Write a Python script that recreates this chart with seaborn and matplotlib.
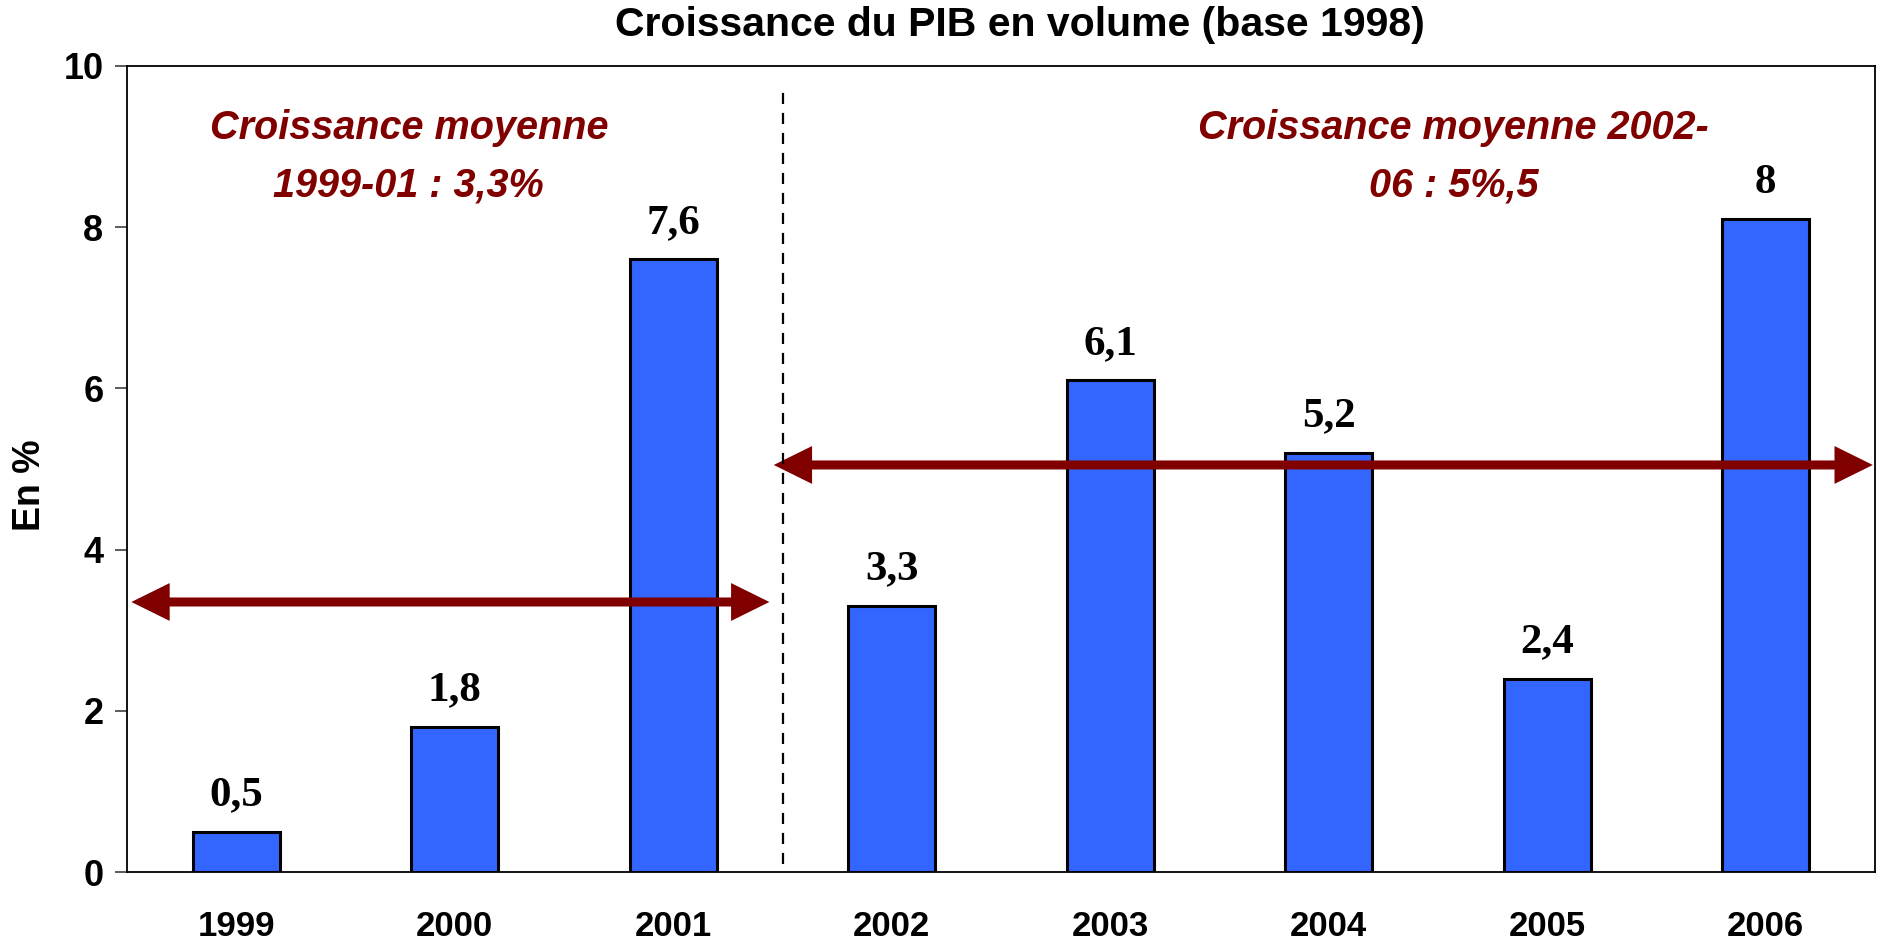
import seaborn as sns
import matplotlib.pyplot as plt
import pandas as pd
from matplotlib.patches import FancyArrowPatch

sns.set_style("white")
plt.rcParams['font.family'] = ['Liberation Sans', 'DejaVu Sans']
plt.rcParams['text.color'] = 'black'
plt.rcParams['axes.labelcolor'] = 'black'

years = ['1999', '2000', '2001', '2002', '2003', '2004', '2005', '2006']
growth = [0.5, 1.8, 7.6, 3.3, 6.1, 5.2, 2.4, 8.1]
value_labels = ['0,5', '1,8', '7,6', '3,3', '6,1', '5,2', '2,4', '8']

avg_1 = 3.35
avg_2 = 5.05
text_1 = 'Croissance moyenne\n1999-01 : 3,3%'
text_2 = 'Croissance moyenne 2002-\n06 : 5%,5'

df = pd.DataFrame({'year': years, 'growth': growth})

fig = plt.figure(figsize=(18.79, 9.44), dpi=100)
ax = fig.add_axes([127 / 1879, 72 / 944, 1748 / 1879, 806 / 944])

sns.barplot(data=df, x='year', y='growth', color='#3366FF', saturation=1,
            edgecolor='black', linewidth=2.2, width=0.4, ax=ax)

for i, lab in enumerate(value_labels):
    ax.annotate(lab, (i, growth[i]), xytext=(0, 19), textcoords='offset points',
                ha='center', va='baseline', fontsize=31, fontweight='bold',
                family='Liberation Serif', color='black')

ax.set_xlim(-0.5, 7.5)
ax.set_ylim(0, 10)
ax.set_yticks([0, 2, 4, 6, 8, 10])

# dashed separator between the two periods
ax.plot([2.5, 2.5], [0.1, 9.7], color='black', lw=1.6, ls=(0, (5, 4)))

red = '#800000'
for (x0, x1, y) in [(-0.48, 2.44, avg_1), (2.46, 7.49, avg_2)]:
    arr = FancyArrowPatch((x0, y), (x1, y), arrowstyle='<|-|>,head_length=0.85,head_width=0.42',
                          mutation_scale=20, color=red, lw=6.5, shrinkA=0, shrinkB=0,
                          joinstyle='miter', capstyle='butt')
    ax.add_patch(arr)

ax.text(0.79, 8.88, text_1, ha='center', va='center', color=red, fontsize=28.5,
        fontweight='bold', fontstyle='italic', linespacing=1.65)
ax.text(5.57, 8.88, text_2, ha='center', va='center', color=red, fontsize=28.5,
        fontweight='bold', fontstyle='italic', linespacing=1.65)

for s in ax.spines.values():
    s.set_visible(True)
    s.set_color('black')
    s.set_linewidth(1.3)

ax.set_xticks([i - 0.5 for i in range(9)], minor=True)
ax.tick_params(axis='x', which='major', length=0, pad=27, labelsize=25, labelcolor='black')
ax.tick_params(axis='x', which='minor', length=10, width=1.2, color='#404040', direction='out')
ax.tick_params(axis='y', length=9, width=1.2, color='#404040', direction='out', labelsize=26,
               pad=8, labelcolor='black')
ax.tick_params(left=True)
for t in ax.get_xticklabels() + ax.get_yticklabels():
    t.set_fontweight('bold')

ax.set_xlabel('')
ax.set_ylabel('En %', fontsize=27, fontweight='bold')
ax.yaxis.set_label_coords(-0.045, 0.48)

fig.text(1020 / 1879, 1 - 25 / 944, 'Croissance du PIB en volume (base 1998)',
         ha='center', va='center', fontsize=29.5, fontweight='bold')

fig.savefig('out.png', dpi=100)
